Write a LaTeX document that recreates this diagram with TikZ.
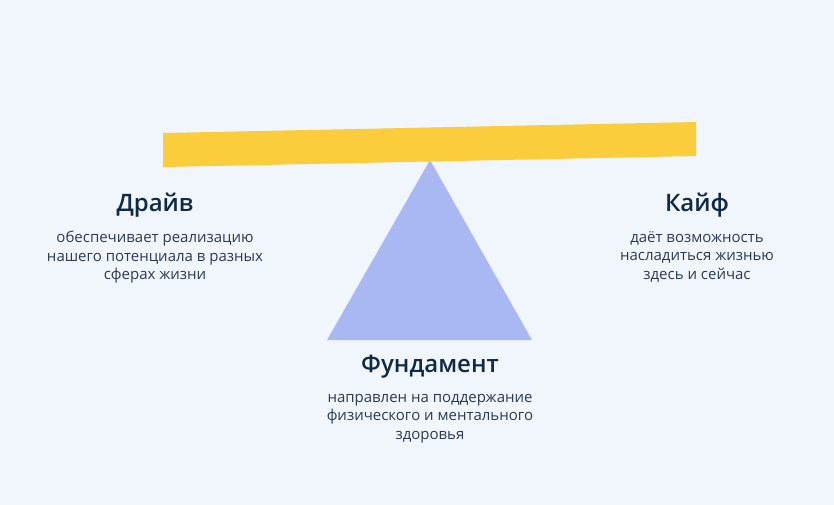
\documentclass[tikz,border=0pt]{standalone}
\usepackage{fontspec}
\setmainfont{Open Sans}[BoldFont={* Semibold}]
\definecolor{bg}{HTML}{F1F5FC}
\definecolor{barc}{HTML}{FBCD3C}
\definecolor{tric}{HTML}{A9B8F2}
\definecolor{titc}{HTML}{0F2A45}
\definecolor{bodyc}{HTML}{2A3B52}
\tikzset{
  ttl/.style={font=\fontsize{24}{26}\selectfont\bfseries, text=titc, inner sep=0pt, anchor=center},
  body/.style={font=\fontsize{15}{18.6}\selectfont, text=bodyc, align=center, inner sep=0pt, anchor=north}
}
\begin{document}
\begin{tikzpicture}[x=1pt,y=-1pt]
\fill[bg] (0,0) rectangle (834,505);
\useasboundingbox (0,0) rectangle (834,505);
\fill[tric] (430,160) -- (532,340) -- (327,340) -- cycle;
\fill[barc] (163,133) -- (696,122) -- (696,156) -- (163,167) -- cycle;
\node[ttl] (drive) at (155,205) {Драйв};
\node[body] (driveb) at (155,231) {обеспечивает реализацию\\нашего потенциала в разных\\сферах жизни};
\node[ttl] (kaif) at (697,205) {Кайф};
\node[body] (kaifb) at (697,231) {даёт возможность\\насладиться жизнью\\здесь и сейчас};
\node[ttl] (fund) at (430,367) {Фундамент};
\node[body] (fundb) at (430,394) {направлен на поддержание\\физического и ментального\\здоровья};
\end{tikzpicture}
\end{document}
